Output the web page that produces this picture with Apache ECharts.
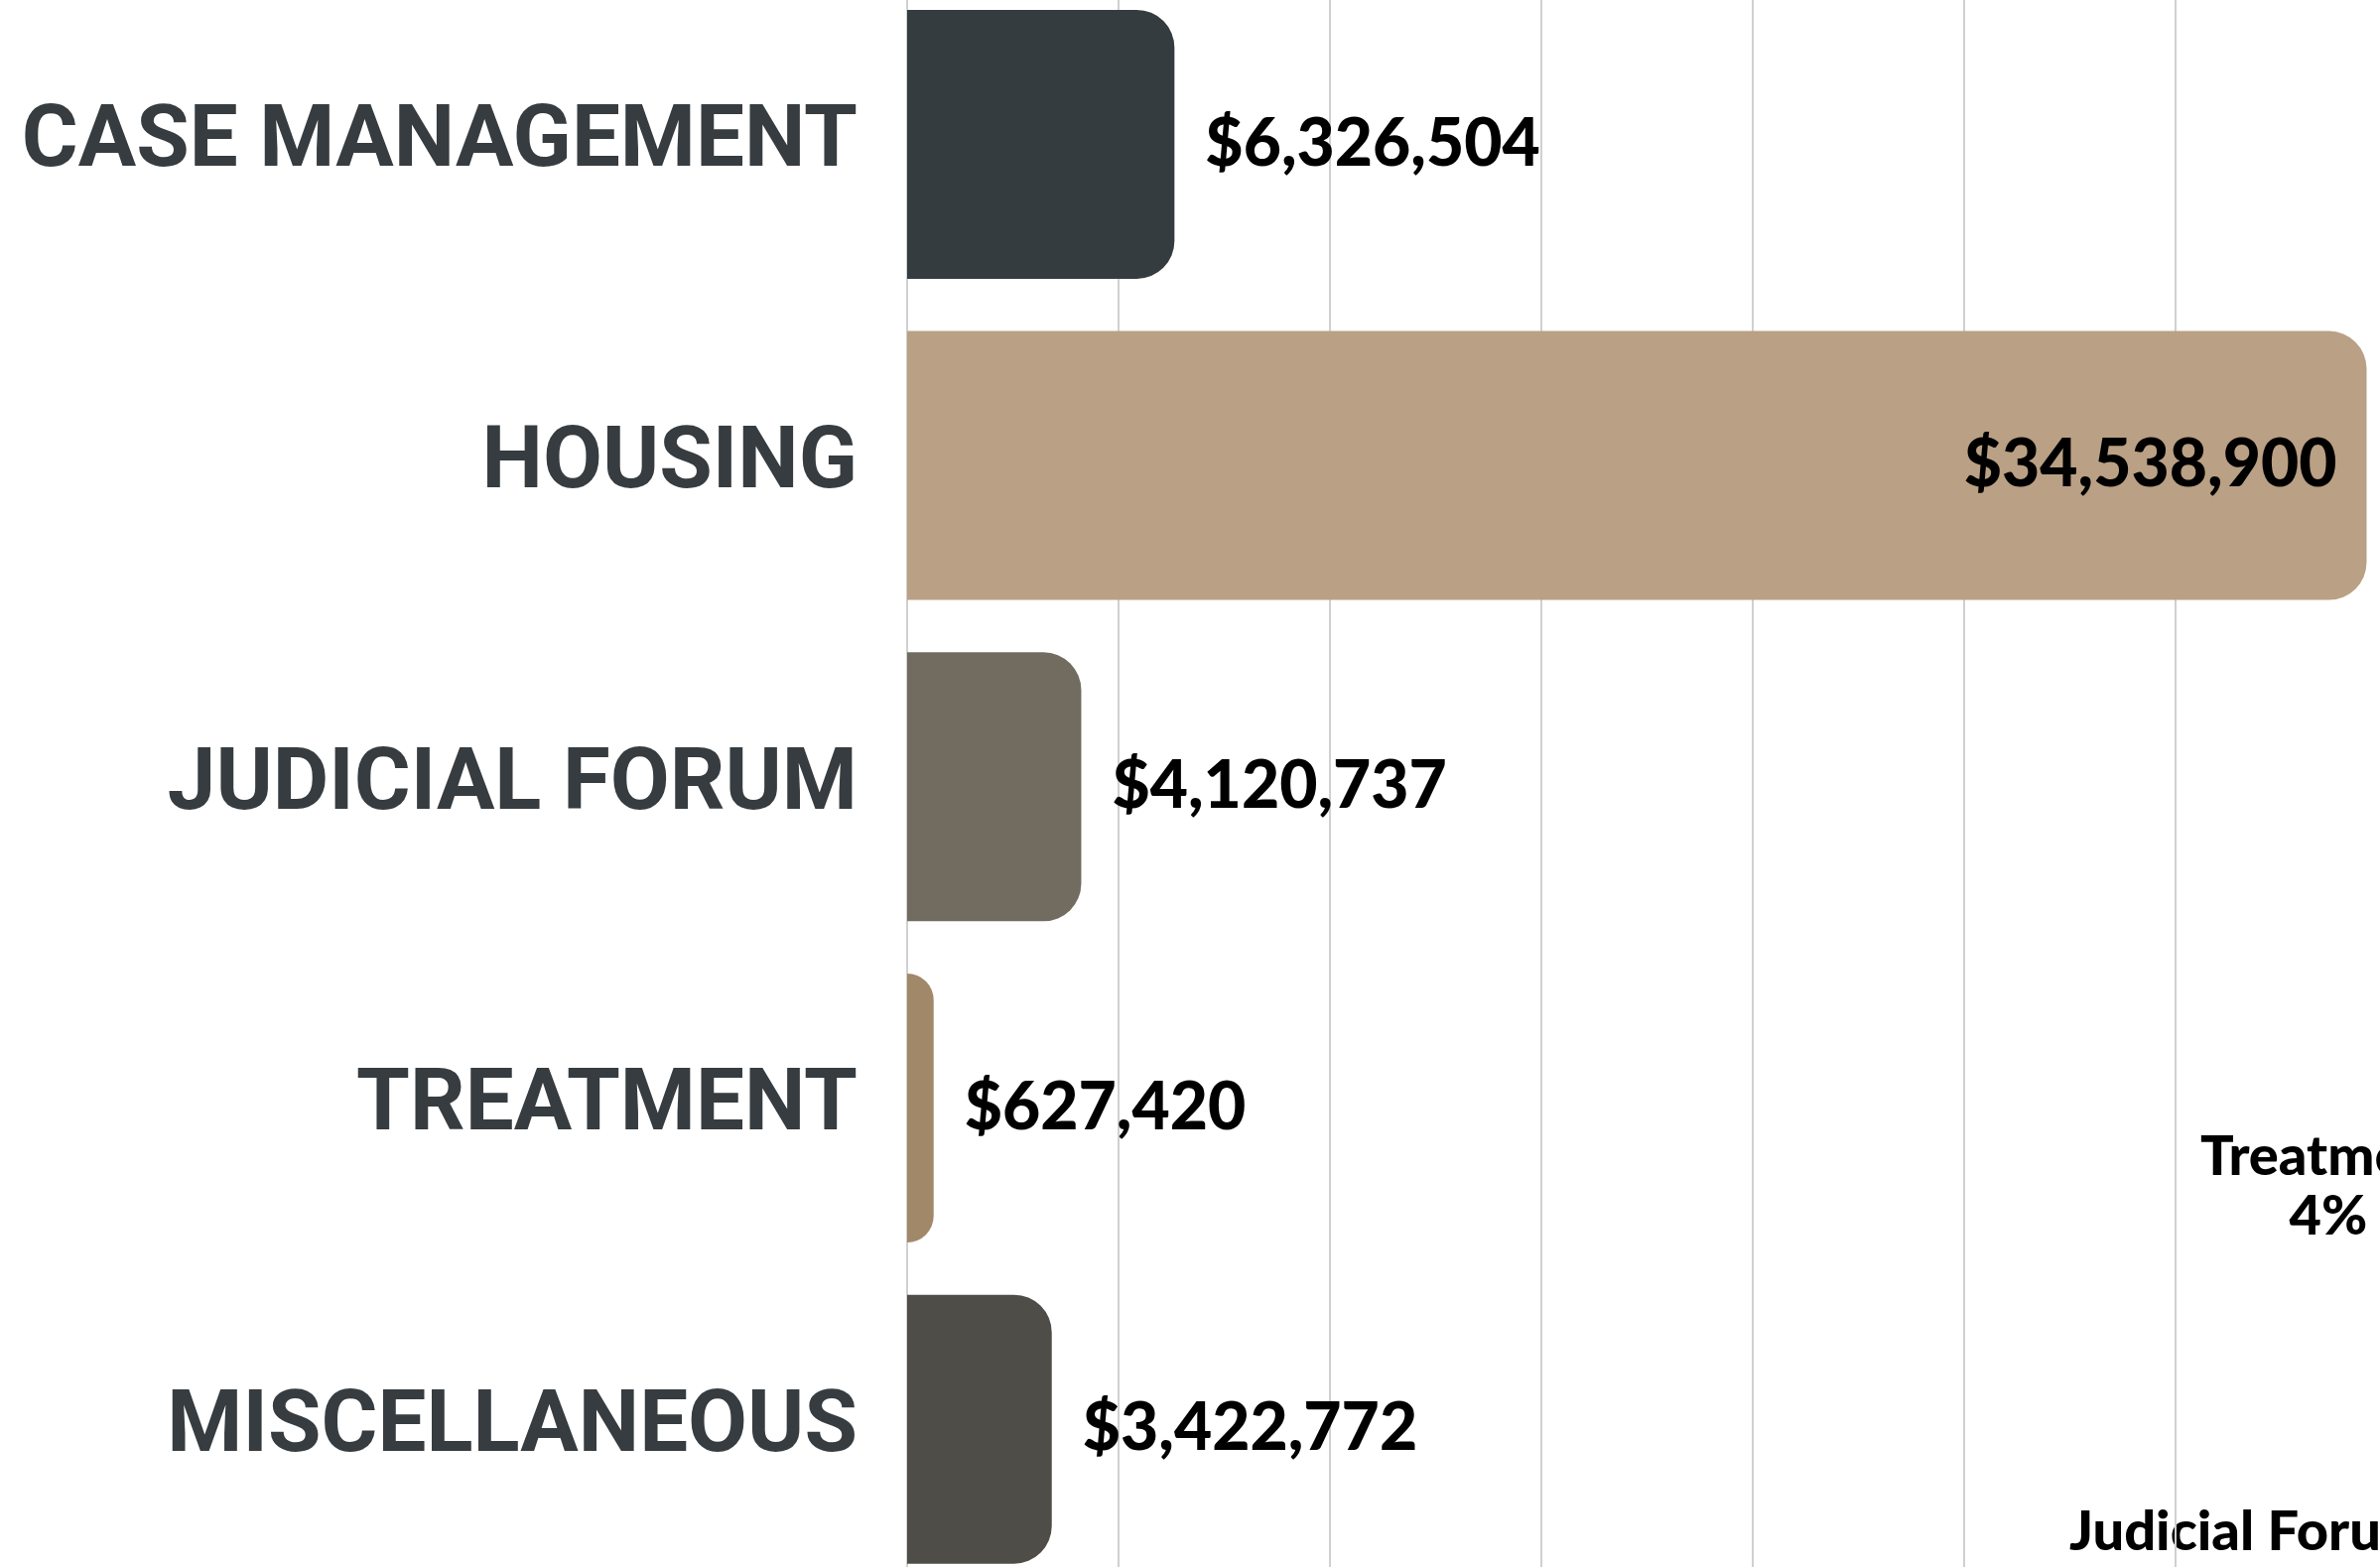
<!DOCTYPE html>
<html>
<head>
<meta charset="utf-8">
<script src="https://cdn.jsdelivr.net/npm/echarts@6/dist/echarts.min.js"></script>
<style>
  html, body { margin: 0; padding: 0; background: #ffffff; }
  #chart { width: 2398px; height: 1579px; }
</style>
</head>
<body>
<div id="chart"></div>
<script>
// ---- data ----
const categories = ['CASE MANAGEMENT', 'HOUSING', 'JUDICIAL FORUM', 'TREATMENT', 'MISCELLANEOUS'];
const amounts = [6326504, 34538900, 4120737, 627420, 3422772];
const insideLabelCategory = 'HOUSING';
const sideTexts = ['Treatment\n4%', 'Judicial Forum'];

// ---- styles ----
const barColors = ['#353c3f', '#baa084', '#716c5f', '#a08869', '#4e4d48'];
const catFont = "Roboto, 'Open Sans', sans-serif";
const valFont = "Lato, 'Noto Sans', sans-serif";

const fmt = v => '$' + Number(v).toLocaleString('en-US');

const chart = echarts.init(document.getElementById('chart'), null, { renderer: 'canvas' });

const seriesData = amounts.map((v, i) => {
  const inside = categories[i] === insideLabelCategory;
  return {
    value: v,
    itemStyle: { color: barColors[i] },
    label: inside ? { position: 'insideRight', distance: 30 } : { position: 'right', distance: 31 }
  };
});

chart.setOption({
  animation: false,
  backgroundColor: '#ffffff',
  grid: { left: 914, right: -219, top: -16.4, bottom: -23, containLabel: false, outerBoundsMode: 'none' },
  xAxis: {
    type: 'value', min: 0, max: 40000000, interval: 5000000,
    axisLine: { show: false }, axisTick: { show: false }, axisLabel: { show: false },
    splitLine: { show: true, lineStyle: { color: '#d0d0d0', width: 2 } }
  },
  yAxis: {
    type: 'category', data: categories, inverse: true,
    axisLine: { show: true, lineStyle: { color: '#d0d0d0', width: 2 } },
    axisTick: { show: false },
    axisLabel: {
      margin: 50, fontSize: 87, fontWeight: 'bold',
      fontFamily: catFont, color: '#363c3f'
    }
  },
  series: [{
    type: 'bar',
    data: seriesData,
    barWidth: 271,
    itemStyle: { borderRadius: [0, 38, 38, 0] },
    label: {
      show: true, formatter: p => fmt(p.value),
      fontSize: 66, fontWeight: 900, fontFamily: valFont, color: '#000000'
    }
  }],
  graphic: [
    {
      type: 'text', left: 2217, top: 1136,
      style: { text: sideTexts[0], font: "900 56px " + valFont, fill: '#000000', textAlign: 'center', lineHeight: 60 }
    },
    {
      type: 'text', left: 2085, top: 1516,
      style: { text: sideTexts[1], font: "900 56px " + valFont, fill: '#000000' }
    }
  ]
});
</script>
</body>
</html>
